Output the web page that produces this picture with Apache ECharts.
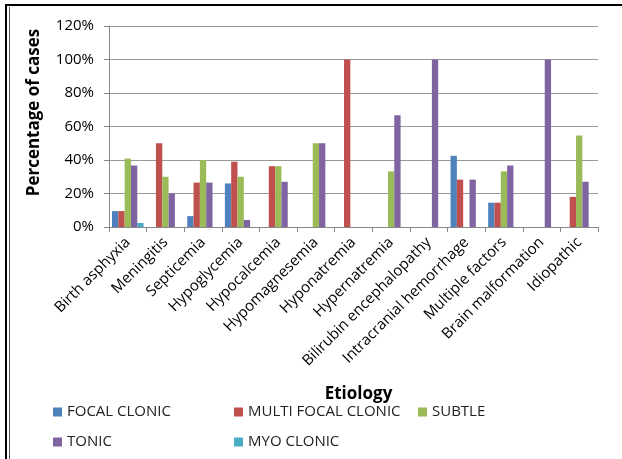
<!DOCTYPE html>
<html>
<head>
<meta charset="utf-8">
<script src="https://cdn.jsdelivr.net/npm/echarts@6/dist/echarts.min.js"></script>
<style>
  html, body { margin: 0; padding: 0; background: #fff; }
  #chart { width: 622px; height: 459px; }
</style>
</head>
<body>
<div id="chart"></div>
<script>
// categories on the x axis
var etiology = [
  "Birth asphyxia", "Meningitis", "Septicemia", "Hypoglycemia", "Hypocalcemia",
  "Hypomagnesemia", "Hyponatremia", "Hypernatremia", "Bilirubin encephalopathy",
  "Intracranial hemorrhage", "Multiple factors", "Brain malformation", "Idiopathic"
];

// percentage of cases per seizure type
var focalClonic      = [9.5, 0, 6.5, 26, 0, 0, 0, 0, 0, 42.5, 14.5, 0, 0];
var multiFocalClonic = [9.5, 50, 26.5, 39, 36.3, 0, 100, 0, 0, 28.3, 14.5, 0, 18];
var subtle           = [40.8, 30, 40, 30, 36.3, 50, 0, 33.2, 0, 0, 33.2, 0, 54.6];
var tonic            = [36.7, 20, 26.5, 4.2, 27, 50, 0, 66.7, 100, 28.3, 36.7, 100, 27];
var myoClonic        = [2.4, 0, 0, 0, 0, 0, 0, 0, 0, 0, 0, 0, 0];

var yTicks = { min: 0, max: 120, step: 20 };

var chart = echarts.init(document.getElementById("chart"));
var font = "'Open Sans', sans-serif";

function bar(name, data, color) {
  return {
    name: name,
    type: "bar",
    data: data,
    barGap: 0,
    barCategoryGap: "16%",
    itemStyle: { color: color }
  };
}

var legendText = { fontSize: 15, color: "#222", lineHeight: 16, fontFamily: font };

var option = {
  animation: false,
  textStyle: { fontFamily: font },
  grid: { left: 109, top: 26, right: 24, bottom: 232, containLabel: false },
  xAxis: {
    type: "category",
    data: etiology,
    name: "Etiology",
    nameLocation: "middle",
    nameGap: 159,
    nameTextStyle: { fontFamily: font, fontSize: 17, fontWeight: "bold", color: "#000", padding: [0, 0, 0, 10] },
    axisLine: { lineStyle: { color: "#888" } },
    axisTick: { show: true, length: 5, lineStyle: { color: "#888" } },
    axisLabel: { rotate: 45, margin: 13, fontSize: 15, color: "#000", fontFamily: font, interval: 0 }
  },
  yAxis: {
    type: "value",
    min: yTicks.min,
    max: yTicks.max,
    interval: yTicks.step,
    name: "Percentage of cases",
    nameLocation: "middle",
    nameGap: 66,
    nameTextStyle: { fontFamily: font, fontSize: 17, fontWeight: "bold", color: "#000", padding: [0, 0, 0, 28] },
    axisLine: { show: true, lineStyle: { color: "#888" } },
    axisTick: { show: true, length: 5, lineStyle: { color: "#888" } },
    axisLabel: { formatter: "{value}%", margin: 15, fontSize: 15, color: "#000", fontFamily: font },
    splitLine: { lineStyle: { color: "#999" } }
  },
  legend: [
    {
      data: ["FOCAL CLONIC", "TONIC"],
      orient: "vertical", left: 48, top: 399, itemGap: 14,
      icon: "rect", itemWidth: 9, itemHeight: 9,
      textStyle: legendText
    },
    {
      data: ["MULTI FOCAL CLONIC", "MYO CLONIC"],
      orient: "vertical", left: 229, top: 399, itemGap: 14,
      icon: "rect", itemWidth: 9, itemHeight: 9,
      textStyle: legendText
    },
    {
      data: ["SUBTLE"],
      orient: "vertical", left: 413, top: 399, itemGap: 14,
      icon: "rect", itemWidth: 9, itemHeight: 9,
      textStyle: legendText
    }
  ],
  graphic: [
    { type: "rect", shape: { x: 6, y: 5, width: 700, height: 600 }, style: { fill: "none", stroke: "#000", lineWidth: 2 }, silent: true },
    { type: "line", shape: { x1: 9.5, y1: 7, x2: 9.5, y2: 600 }, style: { stroke: "#555", lineWidth: 1 }, silent: true }
  ],
  series: [
    bar("FOCAL CLONIC", focalClonic, "#4F81BD"),
    bar("MULTI FOCAL CLONIC", multiFocalClonic, "#C0504D"),
    bar("SUBTLE", subtle, "#9BBB59"),
    bar("TONIC", tonic, "#8064A2"),
    bar("MYO CLONIC", myoClonic, "#4BACC6")
  ]
};

chart.setOption(option);
</script>
</body>
</html>
